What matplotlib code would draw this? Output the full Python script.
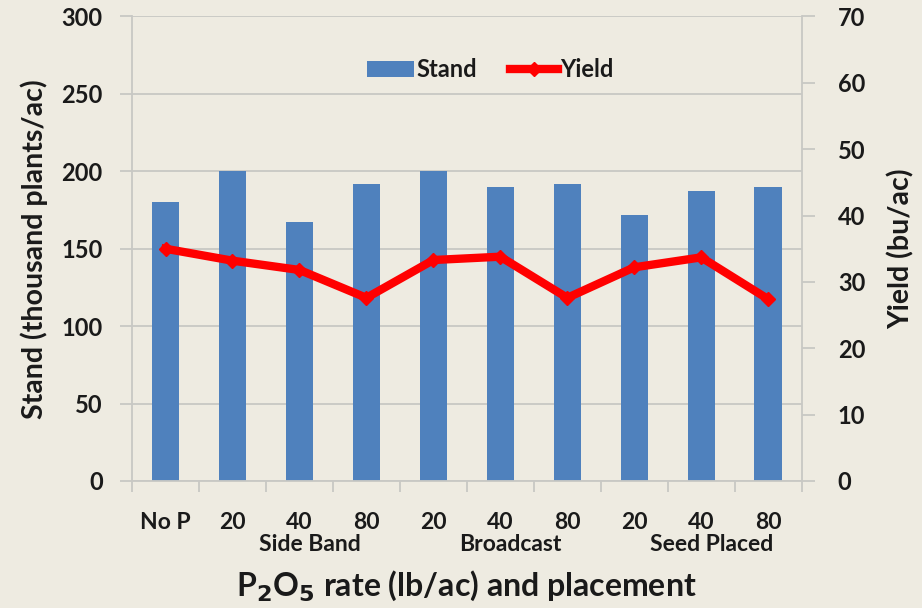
import numpy as np
import matplotlib.pyplot as plt
import matplotlib.transforms as mtransforms

plt.rcParams['font.family'] = ['Lato', 'DejaVu Sans']
plt.rcParams['font.weight'] = 'bold'

rates = ['No P', '20', '40', '80', '20', '40', '80', '20', '40', '80']
groups = ['Side Band', 'Broadcast', 'Seed Placed']
group_pos = [2, 5, 8]
stand = [180, 200, 167, 192, 200, 190, 192, 172, 187, 190]
yield_bu = [35.0, 33.2, 31.8, 27.6, 33.3, 33.8, 27.6, 32.2, 33.7, 27.4]

bg = '#EEEBE1'
grid_c = '#C8C8C4'
txt = '#1A1A1A'

fig = plt.figure(figsize=(9.22, 6.08), dpi=100, facecolor=bg)
ax = fig.add_axes([0.1432, 0.2089, 0.8695 - 0.1432, 0.9729 - 0.2089])
ax.set_facecolor(bg)

x = np.arange(len(rates))
bars = ax.bar(x, stand, width=0.41, color='#4F81BD', label='Stand', zorder=2)

ax.set_xlim(-0.5, len(rates) - 0.5)
ax.set_ylim(0, 300)
ax.set_yticks(np.arange(0, 301, 50))
ax.yaxis.grid(True, color=grid_c, linewidth=1.3, zorder=0)
ax.set_axisbelow(True)

# x ticks sit between categories, labels sit under each bar
ax.set_xticks(np.arange(-0.5, len(rates), 1.0))
ax.set_xticklabels([])
ax.set_xticks(x, minor=True)
ax.set_xticklabels(rates, minor=True)
ax.tick_params(axis='x', which='minor', length=0, pad=22, labelsize=16.5, labelcolor=txt)
ax.tick_params(axis='x', which='major', length=8, color=grid_c, width=1.3)
ax.tick_params(axis='y', length=9, color=grid_c, width=1.3, labelsize=17, labelcolor=txt, pad=12)

for s in ['top', 'right']:
    ax.spines[s].set_visible(False)
for s in ['left', 'bottom']:
    ax.spines[s].set_color(grid_c)
    ax.spines[s].set_linewidth(1.3)

trans = mtransforms.blended_transform_factory(ax.transData, ax.transAxes)
for g, p in zip(groups, group_pos):
    ax.text(p + 0.15, -0.137, g, transform=trans, ha='center', va='center',
            fontsize=16.5, fontweight='bold', color=txt)

ax.set_ylabel('Stand (thousand plants/ac)', fontsize=20.5, fontweight='bold', color=txt, labelpad=10)
ax.text(0.5, -0.225, r'P$_2$O$_5$ rate (lb/ac) and placement', transform=ax.transAxes,
        ha='center', va='center', fontsize=23, fontweight='bold', color=txt)

ax2 = ax.twinx()
ax2.set_ylim(0, 70)
ax2.set_yticks(np.arange(0, 71, 10))
line, = ax2.plot(x, yield_bu, color='#FF0000', linewidth=6, marker='D', markersize=7,
                 label='Yield', zorder=3, solid_joinstyle='miter')
for s in ['top', 'left', 'bottom']:
    ax2.spines[s].set_visible(False)
ax2.spines['right'].set_color(grid_c)
ax2.spines['right'].set_linewidth(1.3)
ax2.tick_params(axis='y', length=9, color=grid_c, width=1.3, labelsize=17, labelcolor=txt, pad=17)
ax2.set_ylabel('Yield (bu/ac)', fontsize=20.5, fontweight='bold', color=txt, labelpad=16)

leg = ax.legend([bars, line], ['Stand', 'Yield'], loc='center', bbox_to_anchor=(0.535, 0.885),
                ncol=2, frameon=False, handlelength=2.0, handletextpad=0.1,
                columnspacing=1.4, prop={'weight': 'bold', 'size': 17})
for t in leg.get_texts():
    t.set_color(txt)

fig.savefig('out.png', dpi=100, facecolor=bg)
